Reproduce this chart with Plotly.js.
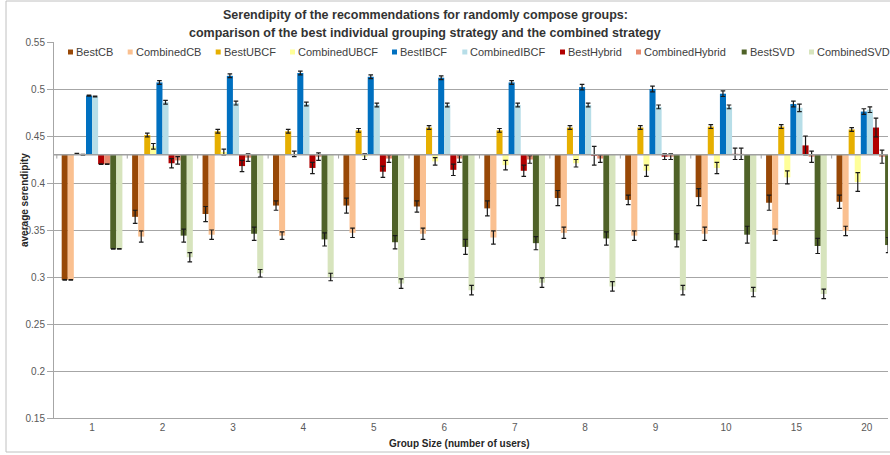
<!DOCTYPE html>
<html><head><meta charset="utf-8">
<script src="https://cdn.plot.ly/plotly-3.0.1.min.js"></script>
<style>html,body{margin:0;padding:0;background:#fff}#chart{width:890px;height:455px}</style>
</head><body><div id="chart"></div>
<script>
// ---- data ----
const groups = ['1','2','3','4','5','6','7','8','9','10','15','20'];
const seriesNames = ['BestCB','CombinedCB','BestUBCF','CombinedUBCF','BestIBCF','CombinedIBCF','BestHybrid','CombinedHybrid','BestSVD','CombinedSVD'];

const bestCB         = [0.297, 0.364, 0.367, 0.376, 0.376, 0.375, 0.373, 0.384, 0.382, 0.385, 0.379, 0.380];
const combinedCB     = [0.297, 0.343, 0.345, 0.344, 0.347, 0.346, 0.342, 0.347, 0.344, 0.346, 0.345, 0.349];
const bestUBCF       = [0.431, 0.451, 0.455, 0.455, 0.456, 0.459, 0.456, 0.459, 0.459, 0.460, 0.460, 0.457];
const combinedUBCF   = [0.430, 0.439, 0.433, 0.431, 0.428, 0.423, 0.419, 0.421, 0.413, 0.416, 0.406, 0.401];
const bestIBCF       = [0.493, 0.507, 0.514, 0.517, 0.513, 0.512, 0.507, 0.502, 0.500, 0.495, 0.484, 0.476];
const combinedIBCF   = [0.492, 0.486, 0.485, 0.484, 0.483, 0.483, 0.483, 0.483, 0.481, 0.481, 0.480, 0.478];
const bestHybrid     = [0.420, 0.421, 0.418, 0.416, 0.412, 0.414, 0.413, 0.429, 0.428, 0.431, 0.440, 0.459];
const combinedHybrid = [0.420, 0.424, 0.427, 0.428, 0.426, 0.426, 0.425, 0.426, 0.428, 0.431, 0.428, 0.428];
const bestSVD        = [0.330, 0.344, 0.346, 0.340, 0.337, 0.332, 0.336, 0.341, 0.339, 0.345, 0.333, 0.334];
const combinedSVD    = [0.330, 0.321, 0.304, 0.300, 0.293, 0.286, 0.294, 0.290, 0.286, 0.284, 0.282, 0.282];

const errBestCB         = [0.0003, 0.007, 0.008, 0.005, 0.008, 0.006, 0.008, 0.008, 0.005, 0.009, 0.008, 0.007];
const errCombinedCB     = [0.0003, 0.006, 0.005, 0.004, 0.005, 0.006, 0.007, 0.006, 0.005, 0.007, 0.006, 0.005];
const errBestUBCF       = [0.0005, 0.002, 0.002, 0.002, 0.002, 0.002, 0.002, 0.002, 0.002, 0.002, 0.002, 0.002];
const errCombinedUBCF   = [0.0005, 0.003, 0.003, 0.003, 0.003, 0.004, 0.005, 0.004, 0.006, 0.006, 0.007, 0.010];
const errBestIBCF       = [0.0005, 0.002, 0.002, 0.002, 0.002, 0.002, 0.002, 0.003, 0.003, 0.003, 0.003, 0.003];
const errCombinedIBCF   = [0.0005, 0.002, 0.002, 0.002, 0.002, 0.002, 0.002, 0.002, 0.002, 0.002, 0.004, 0.003];
const errBestHybrid     = [0.0003, 0.005, 0.006, 0.006, 0.006, 0.006, 0.006, 0.010, 0.003, 0.006, 0.010, 0.010];
const errCombinedHybrid = [0.0003, 0.004, 0.004, 0.004, 0.004, 0.004, 0.004, 0.004, 0.003, 0.006, 0.006, 0.007];
const errBestSVD        = [0.0003, 0.007, 0.007, 0.007, 0.007, 0.008, 0.007, 0.007, 0.007, 0.009, 0.008, 0.008];
const errCombinedSVD    = [0.0003, 0.005, 0.004, 0.004, 0.005, 0.005, 0.005, 0.005, 0.005, 0.005, 0.005, 0.005];

const axisCrossing = 0.43;   // value where the category axis crosses
const titleText = 'Serendipity of the recommendations for randomly compose groups:<br>comparison of the best individual grouping strategy and the combined strategy';
const xTitle = 'Group Size (number of users)';
const yTitle = 'average serendipity';

// ---- styles ----
const colors = ['#984807','#FAC090','#E6AF00','#FFFF99','#0070C0','#B7DEE8','#B20000','#E8896E','#4F6228','#D7E4BD'];
const values = [bestCB, combinedCB, bestUBCF, combinedUBCF, bestIBCF, combinedIBCF, bestHybrid, combinedHybrid, bestSVD, combinedSVD];
const errs = [errBestCB, errCombinedCB, errBestUBCF, errCombinedUBCF, errBestIBCF, errCombinedIBCF, errBestHybrid, errCombinedHybrid, errBestSVD, errCombinedSVD];

const FONT = 'Liberation Sans, Arial, sans-serif';
const W = 890, H = 455;
const M = {l: 54, r: 2, t: 42, b: 37};
const PW = W - M.l - M.r, PH = H - M.t - M.b;
const px2x = p => (p - M.l) / PW;
const py2y = p => (H - M.b - p) / PH;

const traces = seriesNames.map((name, i) => ({
  type: 'bar',
  name: name,
  x: groups,
  y: values[i].map(v => v - axisCrossing),
  base: axisCrossing,
  marker: {color: colors[i], line: {width: 0}},
  error_y: {type: 'data', array: errs[i], visible: true, color: '#1a1a1a', thickness: 1.2, width: 2.3},
  showlegend: false,
  hoverinfo: 'skip'
}));

// custom legend (Excel-like compact row)
const legendMarkerPx = [68, 127.7, 215.7, 290, 392, 462.3, 560, 636, 741.7, 809];
const legendY = 52;
const shapes = [];
const annotations = [];
seriesNames.forEach((name, i) => {
  shapes.push({type: 'rect', xref: 'paper', yref: 'paper',
    x0: px2x(legendMarkerPx[i]), x1: px2x(legendMarkerPx[i] + 5),
    y0: py2y(legendY + 2.5), y1: py2y(legendY - 2.5),
    fillcolor: colors[i], line: {width: 0}});
  annotations.push({xref: 'paper', yref: 'paper', x: px2x(legendMarkerPx[i] + 6), y: py2y(legendY),
    xanchor: 'left', yanchor: 'middle', showarrow: false, text: name,
    font: {family: FONT, size: 11, color: '#404040'}});
});

// category axis line at the crossing value, with tick marks between categories
shapes.push({type: 'line', xref: 'paper', yref: 'y', x0: 0, x1: 1, y0: axisCrossing, y1: axisCrossing,
  line: {color: '#a0a0a0', width: 1.5}, layer: 'above'});
for (let i = 0; i < groups.length; i++) {
  shapes.push({type: 'line', xref: 'x', yref: 'y', x0: i - 0.5, x1: i - 0.5, y0: axisCrossing, y1: axisCrossing - 0.004,
    line: {color: '#a0a0a0', width: 1}});
}
// chart border
shapes.push({type: 'rect', xref: 'paper', yref: 'paper', x0: px2x(6), x1: px2x(900), y0: py2y(452), y1: py2y(1),
  line: {color: '#c0c0c0', width: 1}, fillcolor: 'rgba(0,0,0,0)'});

// title lines and axis titles
annotations.push({xref: 'paper', yref: 'paper', x: px2x(425), y: py2y(15), xanchor: 'center', yanchor: 'middle',
  showarrow: false, text: '<b>' + titleText.split('<br>')[0] + '</b>', font: {family: FONT, size: 12.5, color: '#333333'}});
annotations.push({xref: 'paper', yref: 'paper', x: px2x(425), y: py2y(33), xanchor: 'center', yanchor: 'middle',
  showarrow: false, text: '<b>' + titleText.split('<br>')[1] + '</b>', font: {family: FONT, size: 12.5, color: '#333333'}});
annotations.push({xref: 'paper', yref: 'paper', x: px2x(459), y: py2y(444), xanchor: 'center', yanchor: 'middle',
  showarrow: false, text: '<b>' + xTitle + '</b>', font: {family: FONT, size: 10, color: '#262626'}});
annotations.push({xref: 'paper', yref: 'paper', x: px2x(24), y: py2y(200), xanchor: 'center', yanchor: 'middle',
  showarrow: false, textangle: -90, text: '<b>' + yTitle + '</b>', font: {family: FONT, size: 10, color: '#262626'}});

const layout = {
  width: W, height: H,
  margin: M,
  paper_bgcolor: '#ffffff', plot_bgcolor: '#ffffff',
  font: {family: FONT, size: 10, color: '#595959'},
  barmode: 'group', bargap: 0.138, bargroupgap: 0,
  showlegend: false,
  xaxis: {type: 'category', categoryorder: 'array', categoryarray: groups, range: [-0.54, 11.3],
    showline: true, linecolor: '#a6a6a6', linewidth: 1, showgrid: false, ticks: '', zeroline: false,
    tickfont: {family: FONT, size: 10, color: '#595959'}, fixedrange: true},
  yaxis: {range: [0.15, 0.55], dtick: 0.05, tick0: 0.15, showgrid: true, gridcolor: '#a6a6a6', gridwidth: 1,
    showline: true, linecolor: '#a6a6a6', ticks: 'outside', ticklen: 6, tickcolor: '#a6a6a6', zeroline: false,
    tickfont: {family: FONT, size: 10, color: '#595959'}, fixedrange: true},
  shapes: shapes,
  annotations: annotations
};

Plotly.newPlot('chart', traces, layout, {displayModeBar: false, staticPlot: true});
</script>
</body></html>
